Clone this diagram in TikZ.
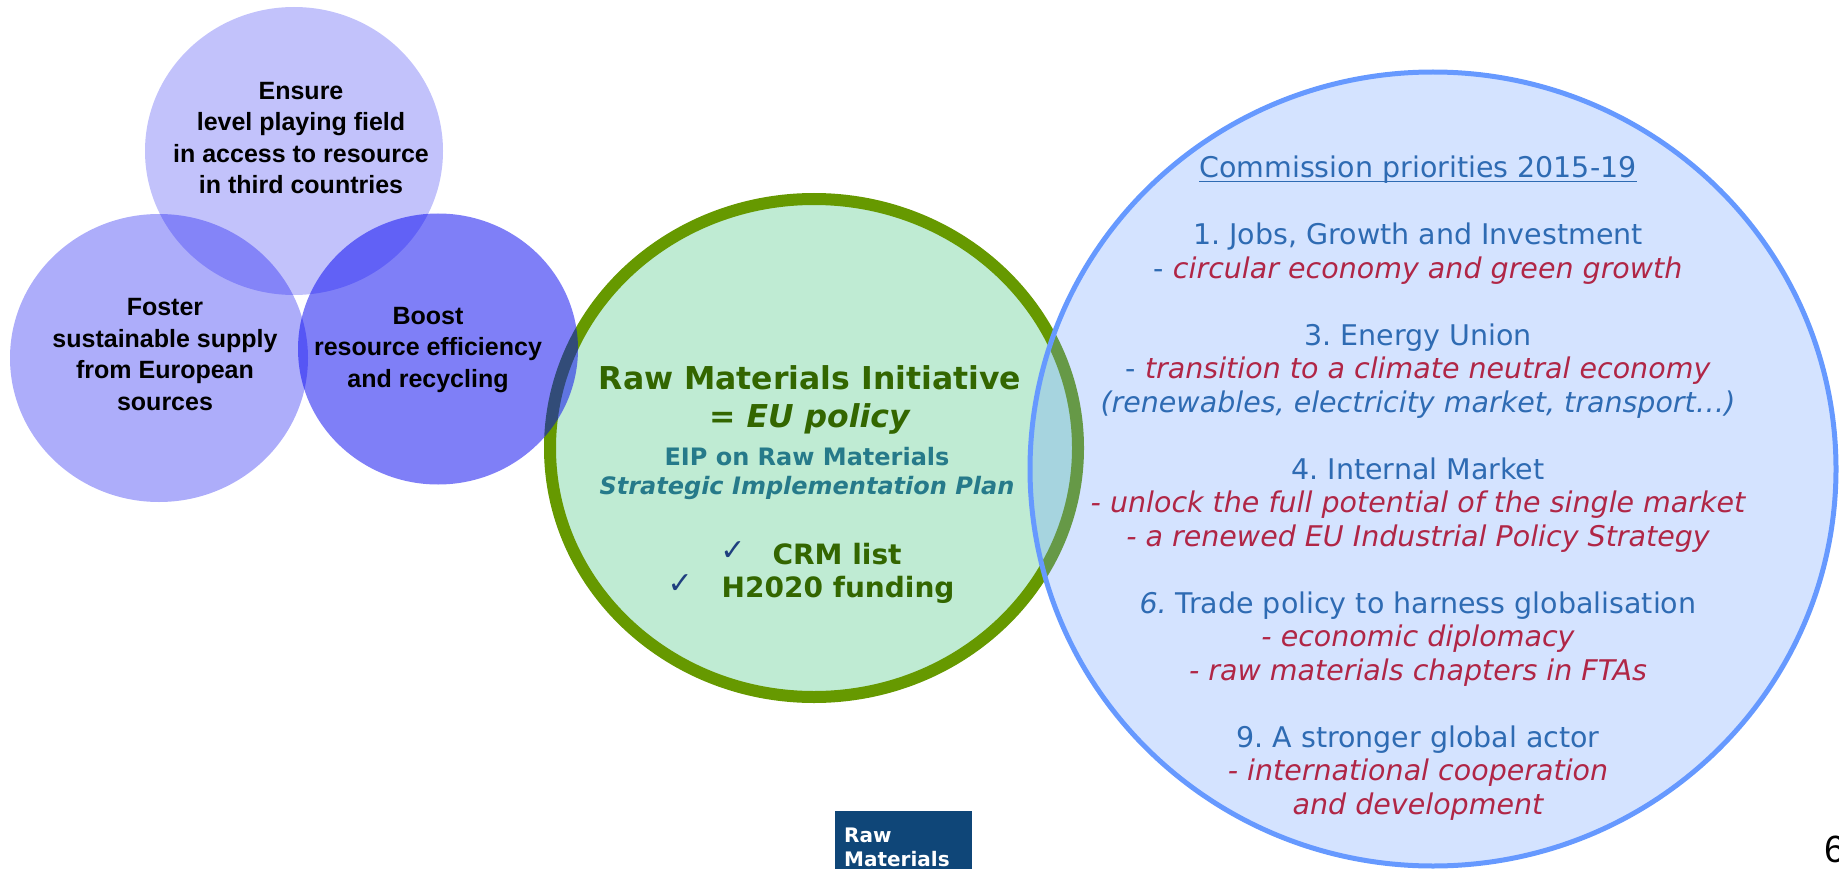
\documentclass[tikz,border=0pt]{standalone}
\usepackage{fontspec}
\setmainfont{DejaVu Sans}
\newfontfamily\arialfont{Liberation Sans}
\usetikzlibrary{shapes.geometric, positioning}
\usepackage{xcolor}

\definecolor{vennblue}{RGB}{0,0,240}
\definecolor{ringgreen}{RGB}{102,153,0}
\definecolor{mintfill}{RGB}{191,235,211}
\definecolor{cornflower}{RGB}{102,153,255}
\definecolor{rmgreen}{RGB}{51,102,0}
\definecolor{eipteal}{RGB}{38,122,138}
\definecolor{tickblue}{RGB}{31,63,127}
\definecolor{prioblue}{RGB}{46,107,179}
\definecolor{priored}{RGB}{176,38,70}
\definecolor{logoblue}{RGB}{15,70,120}

\newcommand{\redit}[1]{\textcolor{priored}{\itshape #1}}
\newcommand{\tickmark}{\raisebox{4pt}{\color{tickblue}\fontsize{30}{30}\selectfont ✓}}

\begin{document}
\frenchspacing
\begin{tikzpicture}[
        x=1pt, y=-1pt,
        venn/.style={ellipse, fill=vennblue, inner sep=0pt},
        goal/.style={align=center, inner sep=0pt, anchor=base, font=\arialfont\bfseries\fontsize{25}{31.5}\selectfont},
        rmitext/.style={align=center, inner sep=0pt, anchor=base, text=rmgreen, font=\bfseries\fontsize{31.5}{38}\selectfont},
        prio/.style={align=center, inner sep=0pt, anchor=base, text=prioblue, font=\fontsize{28.5}{33.5}\selectfont}
    ]
        \useasboundingbox (0,0) rectangle (1839,869);

        \node [ellipse, draw=ringgreen, line width=12pt, fill=mintfill, inner sep=0pt, minimum width=528pt, minimum height=498pt] (rmi) at (814,448) {};
        \node [venn, fill opacity=.24, minimum width=298pt, minimum height=288pt] (ensure) at (294,151) {};
        \node [venn, fill opacity=.32, minimum width=298pt, minimum height=288pt] (foster) at (159,358) {};
        \node [venn, fill opacity=.5, minimum width=280pt, minimum height=271pt] (boost) at (438,349) {};
        \node [ellipse, draw=cornflower, line width=5pt, fill=cornflower, fill opacity=.28, inner sep=0pt, minimum width=806pt, minimum height=794pt] (agenda) at (1433,469) {};

        \node [goal] (ensuretxt) at (301,194) {Ensure\\level playing field\\in access to resource\\in third countries};
        \node [goal] (fostertxt) at (165,410) {Foster\\sustainable supply\\from European\\sources};
        \node [goal] (boosttxt) at (428,387) {Boost\\resource efficiency\\and recycling};

        \node [rmitext] (rmititle) at (810,427) {Raw Materials Initiative\\= \textit{EU policy}};
        \node [rmitext, text=eipteal, font=\bfseries\fontsize{24}{29}\selectfont] (eip) at (807,494) {EIP on Raw Materials\\\textit{Strategic Implementation Plan}};
        \node [rmitext, font=\bfseries\fontsize{28}{33}\selectfont] (crm) at (811,597) {\tickmark\hspace{27pt}CRM list\\\tickmark\hspace{29pt}H2020 funding};

        \node [prio] (agendatitle) at (1418,178) {Commission priorities 2015-19};
        \draw [prioblue, line width=1.2pt] ([yshift=-3.5pt]agendatitle.base west) -- ([yshift=-3.5pt]agendatitle.base east);
        \node [prio] (agendalist) at (1418,814) {1. Jobs, Growth and Investment\\
            - \redit{circular economy and green growth}\\[33.5pt]
            3. Energy Union\\
            - \redit{transition to a climate neutral economy}\\
            \textit{(renewables, electricity market, transport…)}\\[33.5pt]
            4. Internal Market\\
            \redit{- unlock the full potential of the single market}\\
            \redit{- a renewed EU Industrial Policy Strategy}\\[33.5pt]
            \textit{6.} Trade policy to harness globalisation\\
            \redit{- economic diplomacy}\\
            \redit{- raw materials chapters in FTAs}\\[33.5pt]
            9. A stronger global actor\\
            \redit{- international cooperation}\\
            \redit{and development}};

        \node [fill=logoblue, inner sep=0pt, anchor=north west, minimum width=137pt, minimum height=64pt] (logo) at (835,811) {};
        \node [align=left, inner sep=0pt, anchor=base west, text=white, font=\bfseries\fontsize{20}{24}\selectfont] (logotxt) at (844,866) {Raw\\Materials};
        \node [inner sep=0pt, anchor=base west, font=\arialfont\fontsize{38}{38}\selectfont] (pagenum) at (1824,862) {6};
    \end{tikzpicture}
\end{document}
